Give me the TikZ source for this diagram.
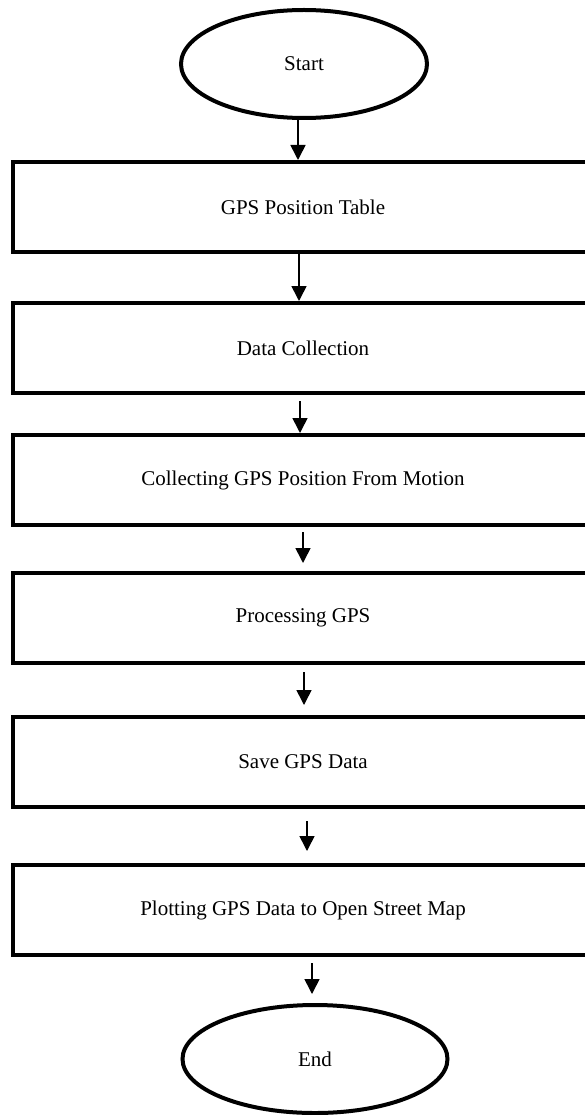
\documentclass[tikz,border=0pt]{standalone}
\usepackage{fontspec}
\setmainfont{Liberation Serif}
\usetikzlibrary{positioning,shapes.geometric,arrows.meta}

\tikzset{
  terminal/.style={ellipse, draw, line width=4pt, minimum width=246pt, minimum height=108pt, inner sep=0pt},
  stepbox/.style={rectangle, draw, line width=4pt, minimum width=580pt, minimum height=90pt, inner sep=0pt},
  flow/.style={-{Triangle[width=15pt,length=15pt]}, line width=1.6pt},
}

\begin{document}
\begin{tikzpicture}[x=1pt, y=-1pt, font=\fontsize{21}{25}\selectfont]
 \useasboundingbox (0,0) rectangle (585,1115);
 \node[terminal] (start) at (304,64) {Start};
 \node[stepbox, below=40pt of start, xshift=-1pt] (table) {GPS Position Table};
 \node[stepbox, below=47pt of table] (collection) {Data Collection};
 \node[stepbox, below=38pt of collection] (motion) {Collecting GPS Position From Motion};
 \node[stepbox, below=44pt of motion] (processing) {Processing GPS};
 \node[stepbox, below=50pt of processing] (save) {Save GPS Data};
 \node[stepbox, below=54pt of save] (plotting) {Plotting GPS Data to Open Street Map};
 \node[terminal, below=46pt of plotting, xshift=12pt, minimum width=265pt] (stop) {End};

 % arrows between the steps
 \draw[flow] ([xshift=-6pt]start.south) -- ([xshift=-5pt]table.north);
 \draw[flow] ([xshift=-4pt]table.south) -- ([xshift=-4pt]collection.north);
 \draw[flow, shorten <=6pt] ([xshift=-3pt]collection.south) -- ([xshift=-3pt]motion.north);
 \draw[flow, shorten <=5pt, shorten >=8pt] (motion.south) -- (motion.south |- processing.north);
 \draw[flow, shorten <=7pt, shorten >=10pt] ([xshift=1pt]processing.south) -- ([xshift=1pt]save.north);
 \draw[flow, shorten <=12pt, shorten >=12pt] ([xshift=4pt]save.south) -- ([xshift=4pt]plotting.north);
 \draw[flow, shorten <=6pt, shorten >=9pt] ([xshift=9pt]plotting.south) -- ([xshift=-3pt]stop.north);
\end{tikzpicture}
\end{document}
